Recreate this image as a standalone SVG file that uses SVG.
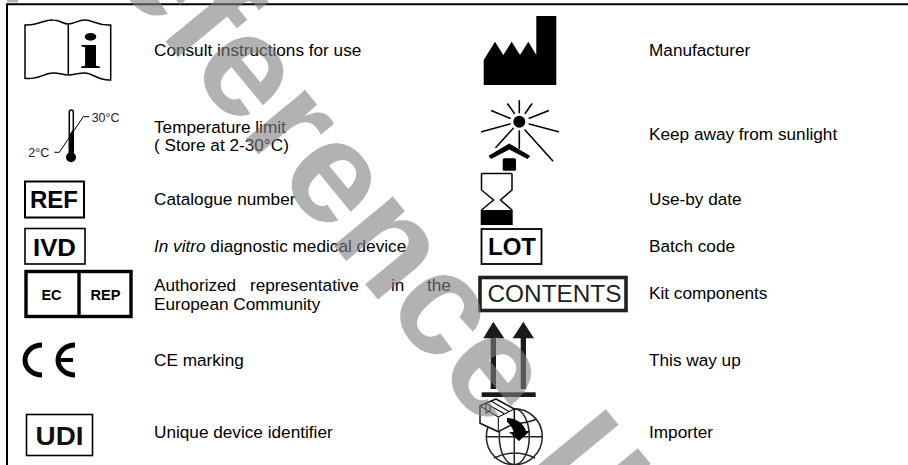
<svg xmlns="http://www.w3.org/2000/svg" width="908" height="465" viewBox="0 0 908 465">
<style>
text{font-family:"Liberation Sans",Arial,sans-serif;fill:#000}
.l{font-size:17.2px}
.b{font-weight:bold}
.box{fill:#fff;stroke:#000}
.ln{fill:none;stroke:#000;stroke-width:1.5}
.ray{fill:none;stroke:#000;stroke-width:1.6;stroke-linecap:round}
.wm{font-size:146px;font-weight:bold;fill:#808080;opacity:.6}
</style>
<rect width="908" height="465" fill="#fff"/>
<g id="frame"><path d="M7 465V4.2H908" fill="none" stroke="#000" stroke-width="2"/></g>

<g id="ifu">
<path class="ln" d="M25 25C38 26 45 19 53 20C60 20 63 24 68.3 24C74 24 78 20 85 20C93 20 98 26 110.7 25V80C98 81 93 73 85 73C78 73 74 75 68.3 75C63 75 60 73 53 73C45 73 38 80 25 78.3ZM68.3 24V75"/>
<text class="b" transform="translate(79.5 67.5) scale(1.55 1)" style="font-family:'Liberation Serif',serif;font-size:50px">i</text>
<text class="l" x="154" y="56">Consult instructions for use</text>
</g>
<g id="temperature">
<path class="ln" d="M69.3 112a2 2 0 0 1 4 0V152h-4Z"/>
<path d="M69.3 135L73.3 129V153H69.3Z"/>
<circle cx="71" cy="157.3" r="5"/>
<path fill="none" stroke="#000" d="M54.3 152.3H59.3L83.3 116.7H89.3"/>
<text x="91.7" y="121.7" font-size="12" textLength="27.7" lengthAdjust="spacingAndGlyphs" style="fill:#222">30°C</text>
<text x="28.3" y="157.3" font-size="12" textLength="21" lengthAdjust="spacingAndGlyphs" style="fill:#222">2°C</text>
<text class="l" x="154" y="133">Temperature limit</text>
<text class="l" x="154" y="151">( Store at 2-30°C)</text>
</g>
<g id="ref">
<rect class="box" x="25" y="181.5" width="59" height="36" stroke-width="2"/>
<text class="b" x="30" y="208" font-size="24">REF</text>
<text class="l" x="154" y="205">Catalogue number</text>
</g>
<g id="ivd">
<rect class="box" x="25" y="228.5" width="60" height="35.5" stroke-width="1.6"/>
<text class="b" x="33" y="256" font-size="23" textLength="43" lengthAdjust="spacingAndGlyphs">IVD</text>
<text class="l" x="154" y="252"><tspan font-style="italic">In vitro</tspan> diagnostic medical device</text>
</g>
<g id="ecrep">
<rect class="box" x="26" y="271.5" width="105" height="45" stroke-width="3.4"/>
<path d="M79 271.5V316.5" stroke="#000" stroke-width="3.4"/>
<text class="b" x="41.5" y="300" font-size="14.4">EC</text>
<text class="b" x="90.5" y="300" font-size="14.6">REP</text>
<text class="l" y="291"><tspan x="154">Authorized</tspan><tspan x="250">representative</tspan><tspan x="391">in</tspan><tspan x="427">the</tspan></text>
<text class="l" x="154" y="310">European Community</text>
</g>
<g id="ce">
<path fill="none" stroke="#000" stroke-width="5" d="M42 345A17 15 0 0 0 42 375M75 345A17 15 0 0 0 75 375"/>
<path stroke="#000" stroke-width="4" d="M58 360H73"/>
<text class="l" x="154" y="366">CE marking</text>
</g>
<g id="udi">
<rect class="box" x="26.5" y="414.5" width="66" height="41" stroke-width="1.6"/>
<text class="b" x="35.5" y="445" font-size="26" textLength="48" lengthAdjust="spacingAndGlyphs" style="fill:#111">UDI</text>
<text class="l" x="154" y="438">Unique device identifier</text>
</g>

<g id="manufacturer">
<path d="M483.7 85V60L495 41.7L503.3 55L511.7 41.7L520 55L528.3 41.7L536.3 55V16H556.3V85Z"/>
<text class="l" x="649" y="56">Manufacturer</text>
</g>
<g id="sunlight">
<circle cx="519.3" cy="121.7" r="6"/>
<path class="ray" d="M519.3 100.7V112.7M507.7 104L514.3 113.3M531.7 104L525.3 113.3M491.7 110.7L510 118.3M548.3 110.7L529.3 118.3M481.7 131.7L510 124M558.3 131.7L529.3 124M496 147.3L513.3 128.3M519.3 131V148.3M525 130L552.7 160.7"/>
<path d="M489 156L509.3 144L529.5 156L527.5 158.5L509.3 149L491 158.5Z" stroke="#000" stroke-linejoin="round"/>
<rect x="502.7" y="158.3" width="13.3" height="12.5" rx="1.5"/>
<text class="l" x="649" y="140">Keep away from sunlight</text>
</g>
<g id="usebydate">
<path class="ln" d="M481.5 173.5V190L493.5 200L481.5 210M512 173.5V190L500.5 200L512 210M481.5 173.5H512"/>
<rect x="480.7" y="210" width="32" height="15"/>
<text class="l" x="649" y="205">Use-by date</text>
</g>
<g id="lot">
<rect class="box" x="481.5" y="229" width="60" height="35" stroke-width="1.8"/>
<text class="b" x="488" y="255" font-size="24">LOT</text>
<text class="l" x="649" y="252">Batch code</text>
</g>
<g id="contents">
<rect x="480" y="277.5" width="146" height="33" fill="#fff" stroke="#231f20" stroke-width="3.6"/>
<text x="487.5" y="302.3" font-size="24" textLength="134" lengthAdjust="spacingAndGlyphs" style="fill:#231f20">CONTENTS</text>
<text class="l" x="649" y="299">Kit components</text>
</g>
<g id="thisway" fill="#1a1a1a">
<path d="M493.3 321.7L504.3 338.3H496V389H490.7V338.3H483.3Z"/>
<path d="M523.3 321.7L534 338.3H526V389H520.7V338.3H512.7Z"/>
<rect x="481.7" y="392.3" width="54" height="4.7"/>
<text class="l" x="649" y="366">This way up</text>
</g>
<g id="importer">
<g fill="none" stroke="#222" stroke-width="1.5">
<circle cx="514.3" cy="436.7" r="28"/>
<ellipse cx="514.3" cy="436.7" rx="15" ry="28"/>
<path d="M514.3 408.7V465M486.3 436.7H542.3M492 419Q514 428 537 419M494 458Q514 448 535 458"/>
</g>
<path d="M480 405.7L496 399L514.3 409V423.5L498.3 431.7L480 423.3Z" fill="#fff" stroke="#111" stroke-width="1.5" stroke-linejoin="round"/>
<path d="M480 405.7L498.3 417V431.7M498.3 417L514.3 409M486 403.5L504 413.5M491 401L509 411.5M486 403.5V413L490 411V407" fill="none" stroke="#111" stroke-width="1.1"/>
<path d="M507 418C516 418 524 424 526 431L530 431L519 441L509 432L514 432C512 428 510 424 507 422Z" fill="#000"/>
<text class="l" x="649" y="438">Importer</text>
</g>

<g id="watermark">
<rect x="7" y="0" width="11" height="2.5" fill="#b3b3b3"/>
<text class="wm" transform="translate(38 -113) rotate(50.5)">Reference<tspan dx="48">l</tspan><tspan dx="10">l</tspan></text>
</g>
</svg>
